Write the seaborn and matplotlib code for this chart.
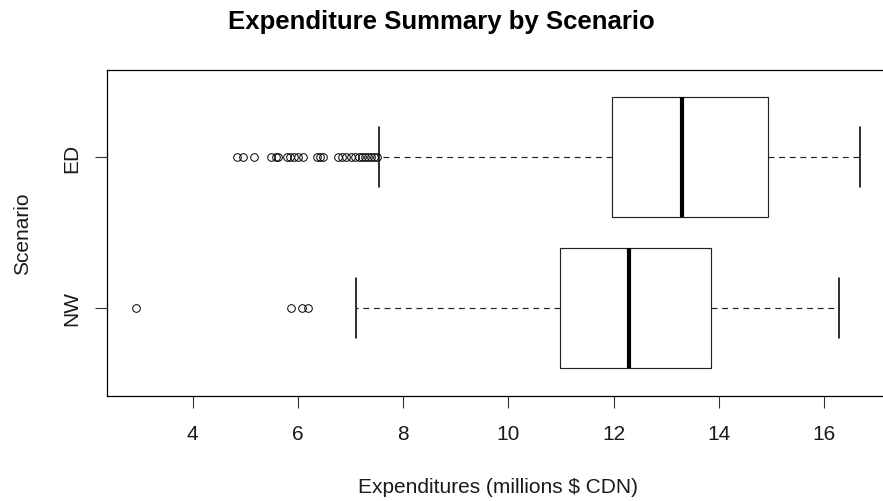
import numpy as np
import pandas as pd
import matplotlib
matplotlib.use("Agg")
import matplotlib.pyplot as plt
import seaborn as sns

# ---- data ----
scenarios = ["ED", "NW"]
q1 = [11.97, 10.98]
median = [13.30, 12.29]
q3 = [14.93, 13.85]
whisker_lo = [7.55, 7.10]
whisker_hi = [16.68, 16.28]
ed_outliers = [4.85, 4.95, 5.17, 5.48, 5.58, 5.62, 5.79, 5.84, 5.92, 6.00, 6.09,
               6.36, 6.41, 6.47, 6.76, 6.83, 6.91, 7.00, 7.08, 7.16, 7.21, 7.27,
               7.33, 7.38, 7.44, 7.50]
nw_outliers = [2.92, 5.87, 6.07, 6.20]
outliers = [ed_outliers, nw_outliers]

# Build samples whose quartiles / whiskers reproduce the summary above
rows = []
m = 40
for i, s in enumerate(scenarios):
    k = len(outliers[i])
    vals = list(outliers[i]) + [whisker_lo[i]] + [q1[i]] * (m - k) \
        + [median[i]] * m + [q3[i]] * (2 * m - 1) + [whisker_hi[i]]
    for v in vals:
        rows.append((s, v))
df = pd.DataFrame(rows, columns=["Scenario", "Expenditure"])

# ---- figure ----
sns.set_theme(style="white")
plt.rcParams["font.family"] = ["Liberation Sans", "DejaVu Sans"]

W, H = 883, 502
fig = plt.figure(figsize=(W / 100, H / 100), dpi=100)
xl, xr = 2.37, 17.23
ppu = 52.6
left_px, top_px, bottom_px = 107, 71, 397
ax = fig.add_axes([left_px / W, (H - bottom_px) / H,
                   (xr - xl) * ppu / W, (bottom_px - top_px) / H])

lw = 0.85
sns.boxplot(data=df, x="Expenditure", y="Scenario", order=scenarios, ax=ax,
            orient="h", width=0.795, color="white", linecolor="black",
            linewidth=lw, saturation=1,
            boxprops=dict(edgecolor="#222222", linewidth=lw),
            whiskerprops=dict(linestyle=(0, (5, 4)), linewidth=lw, color="#222222"),
            capprops=dict(linewidth=lw + 0.3, color="black"),
            medianprops=dict(linewidth=3.0, color="black"),
            flierprops=dict(marker="o", markerfacecolor="none",
                            markeredgecolor="black", markersize=5.5,
                            markeredgewidth=0.7))

ax.set_xlim(xl, xr)
ax.set_ylim(1.583, -0.576)
ax.set_xticks([4, 6, 8, 10, 12, 14, 16])
ax.set_xticklabels(["4", "6", "8", "10", "12", "14", "16"])
for sp in ax.spines.values():
    sp.set_visible(True)
    sp.set_color("black")
    sp.set_linewidth(0.9)
ax.tick_params(axis="both", which="major", direction="out", length=8.5,
               width=0.8, color="#333333", labelsize=15, labelcolor="#1a1a1a",
               bottom=True, left=True)
ax.tick_params(axis="x", pad=12)
ax.tick_params(axis="y", pad=10)
for lab in ax.get_yticklabels():
    lab.set_rotation(90)
    lab.set_va("center")

ax.set_xlabel("Expenditures (millions $ CDN)", fontsize=15, color="#1a1a1a", labelpad=24)
ax.set_ylabel("Scenario", fontsize=15, color="#1a1a1a", labelpad=22)
fig.suptitle("Expenditure Summary by Scenario", fontsize=18.5, fontweight="bold",
             y=1 - 21.5 / H, va="center", color="black")

fig.savefig("out.png", dpi=100)
